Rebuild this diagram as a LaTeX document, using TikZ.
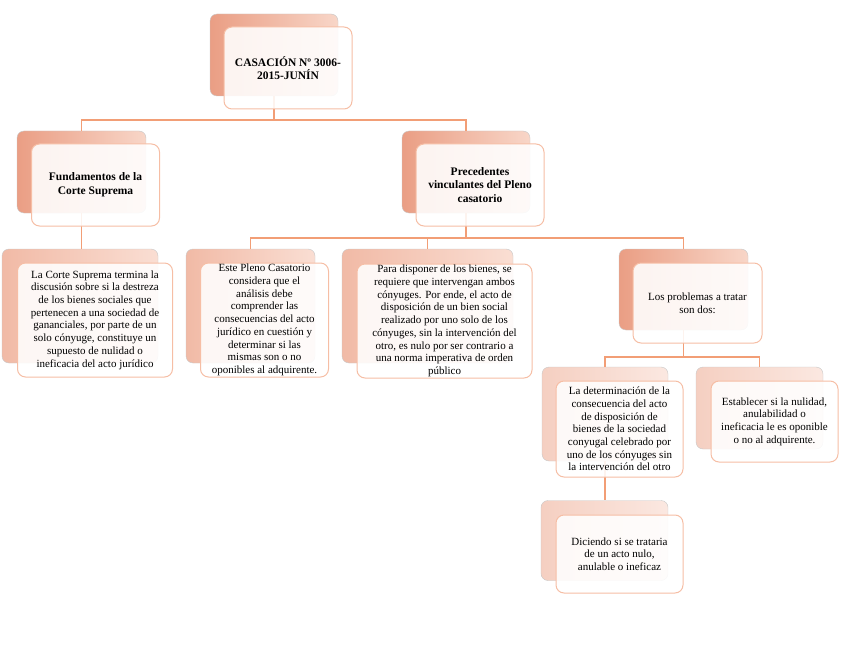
\documentclass[tikz,border=0pt]{standalone}
\usepackage{fontspec}
\setmainfont{Liberation Serif}
\usetikzlibrary{positioning}

\definecolor{linkc}{RGB}{242,158,118}
\definecolor{rimc}{RGB}{246,190,165}
\definecolor{darkA}{RGB}{234,158,132}
\definecolor{lightA}{RGB}{248,214,200}
\definecolor{darkB}{RGB}{241,186,166}
\definecolor{lightB}{RGB}{250,222,211}
\definecolor{darkC}{RGB}{245,207,193}
\definecolor{lightC}{RGB}{251,232,225}

\begin{document}
\begin{tikzpicture}[x=1pt, y=-1pt,
  backbox/.style={draw=black!22, rounded corners=7pt, inner sep=0pt,
                  left color=darkA, right color=lightA},
  lvlb/.style={left color=darkB, right color=lightB},
  lvlc/.style={left color=darkC, right color=lightC},
  frontbox/.style={draw=rimc, line width=1pt, rounded corners=8pt,
                   fill=white, fill opacity=.88, text opacity=1,
                   align=center, inner xsep=2pt, inner ysep=1pt,
                   font=\fontsize{11}{12.7}\selectfont},
  title/.style={font=\fontsize{11.5}{13.6}\selectfont\bfseries},
  link/.style={draw=linkc, line width=1.2pt}
]
\useasboundingbox (0,0) rectangle (848,655);

% back shapes
\node[backbox, minimum width=128, minimum height=82] (topb) at (274,55) {};
\node[backbox, minimum width=129, minimum height=82] (fundb) at (81.5,172) {};
\node[backbox, minimum width=128, minimum height=82] (precb) at (466,172) {};
\node[backbox, lvlb, minimum width=156, minimum height=114] (corteb) at (80,306) {};
\node[backbox, lvlb, minimum width=129, minimum height=114] (esteb) at (250.5,306) {};
\node[backbox, lvlb, minimum width=171, minimum height=114] (parab) at (427.5,306) {};
\node[backbox, minimum width=129, minimum height=81] (probb) at (683.5,289.5) {};
\node[backbox, lvlc, minimum width=126, minimum height=94] (detb) at (605,414) {};
\node[backbox, lvlc, minimum width=127, minimum height=82] (estb) at (759.5,408) {};
\node[backbox, lvlc, minimum width=127, minimum height=80] (dicb) at (604.5,540.5) {};

% connectors
\coordinate (j1) at (274,120);
\coordinate (j2) at (466,238);
\coordinate (j3) at (683.5,357);
\draw[link] (topb.south) -- (j1);
\draw[link] (fundb.north) |- (j1) -| (precb.north);
\draw[link] (fundb.south) -- (fundb.south |- corteb.north);
\draw[link] (precb.south) -- (j2);
\draw[link] (esteb.north) |- (j2) -| (probb.north);
\draw[link] (j2 -| parab.north) -- (parab.north);
\draw[link] (probb.south) -- (j3);
\draw[link] (detb.north) |- (j3) -| (estb.north);
\draw[link] (detb.south) -- (detb.south |- dicb.north);

% front shapes
\node[frontbox, title, minimum width=128, minimum height=82] (top)
  at ([shift={(14,13)}]topb) {CASACIÓN Nº 3006-\\2015-JUNÍN};
\node[frontbox, title, minimum width=128, minimum height=82] (fund)
  at ([shift={(14,13)}]fundb) {Fundamentos de la\\Corte Suprema};
\node[frontbox, title, minimum width=128, minimum height=82] (prec)
  at ([shift={(14,13)}]precb) {Precedentes\\vinculantes del Pleno\\casatorio};
\node[frontbox, minimum width=155, minimum height=114] (corte)
  at ([shift={(15,14)}]corteb) {La Corte Suprema termina la\\discusión sobre si la destreza\\de los bienes sociales que\\pertenecen a una sociedad de\\gananciales, por parte de un\\solo cónyuge, constituye un\\supuesto de nulidad o\\ineficacia del acto jurídico};
\node[frontbox, minimum width=128, minimum height=114] (este)
  at ([shift={(14,14)}]esteb) {Este Pleno Casatorio\\considera que el\\análisis debe\\comprender las\\consecuencias del acto\\jurídico en cuestión y\\determinar si las\\mismas son o no\\oponibles al adquirente.};
\node[frontbox, minimum width=175, minimum height=114] (para)
  at ([shift={(17,15)}]parab) {Para disponer de los bienes, se\\requiere que intervengan ambos\\cónyuges. Por ende, el acto de\\disposición de un bien social\\realizado por uno solo de los\\cónyuges, sin la intervención del\\otro, es nulo por ser contrario a\\una norma imperativa de orden\\público};
\node[frontbox, minimum width=129, minimum height=80] (prob)
  at ([shift={(14,13.5)}]probb) {Los problemas a tratar\\son dos:};
\node[frontbox, minimum width=127, minimum height=96] (det)
  at ([shift={(14.5,15)}]detb) {La determinación de la\\consecuencia del acto\\de disposición de\\bienes de la sociedad\\conyugal celebrado por\\uno de los cónyuges sin\\la intervención del otro};
\node[frontbox, minimum width=127, minimum height=81] (est)
  at ([shift={(15,13.5)}]estb) {Establecer si la nulidad,\\anulabilidad o\\ineficacia le es oponible\\o no al adquirente.};
\node[frontbox, minimum width=127, minimum height=78] (dic)
  at ([shift={(15,13.5)}]dicb) {Diciendo si se trataria\\de un acto nulo,\\anulable o ineficaz};
\end{tikzpicture}
\end{document}
